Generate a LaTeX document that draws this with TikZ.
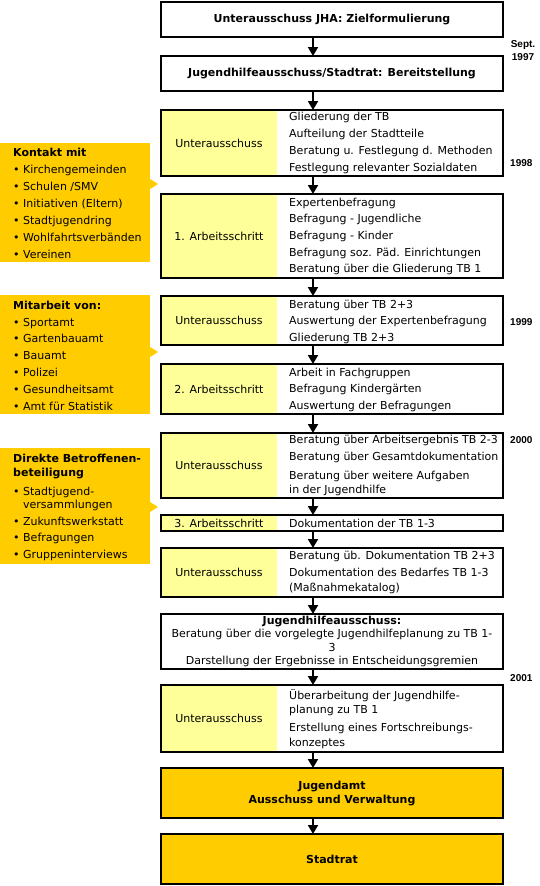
\documentclass[tikz,border=0pt]{standalone}
\usepackage{fontspec}
\setmainfont{DejaVu Sans}
\newfontfamily\yearfont{Liberation Sans}
\usetikzlibrary{arrows.meta,calc}
\definecolor{lightyel}{HTML}{FFFF99}
\definecolor{orangey}{HTML}{FFCC00}
\newcommand\bodyfs{\fontsize{11}{13.5}\selectfont}
\newcommand\bul{\makebox[10pt][l]{•}}
\begin{document}
\begin{tikzpicture}[x=1pt,y=-1pt,
  mainbox/.style={draw=black, line width=2pt, minimum width=342pt, inner sep=0pt, outer sep=0pt, font=\bodyfs\bfseries, align=center},
  lab/.style={fill=lightyel, minimum width=116pt, inner sep=0pt, outer sep=0pt, font=\bodyfs},
  txt/.style={anchor=west, align=left, inner sep=0pt, font=\bodyfs},
  side/.style={fill=orangey, inner sep=0pt, outer sep=0pt, minimum width=150pt, anchor=north west},
  sidetxt/.style={anchor=west, align=left, inner sep=0pt, font=\bodyfs},
  flow/.style={line width=2pt, -{Triangle[width=10pt,length=9pt]}},
  year/.style={font=\yearfont\bfseries\fontsize{10}{13}\selectfont, inner sep=0pt, align=center}
]
\useasboundingbox (0,0) rectangle (540,886);

% ---------- left orange boxes ----------
\node[side, minimum height=119pt] (sa) at (0,143) {};
\fill[orangey] (150,179) -- (158,184) -- (150,189) -- cycle;
\node[sidetxt] (sat) at (13,203) {\textbf{Kontakt mit}\\[3.5pt]
\bul Kirchengemeinden\\[3.5pt]
\bul Schulen /SMV\\[3.5pt]
\bul Initiativen (Eltern)\\[3.5pt]
\bul Stadtjugendring\\[3.5pt]
\bul Wohlfahrtsverbänden\\[3.5pt]
\bul Vereinen};

\node[side, minimum height=119pt] (sb) at (0,295) {};
\fill[orangey] (150,347) -- (158,352) -- (150,357) -- cycle;
\node[sidetxt] (sbt) at (13,355.5) {\textbf{Mitarbeit von:}\\[3.3pt]
\bul Sportamt\\[3.3pt]
\bul Gartenbauamt\\[3.3pt]
\bul Bauamt\\[3.3pt]
\bul Polizei\\[3.3pt]
\bul Gesundheitsamt\\[3.3pt]
\bul Amt für Statistik};

\node[side, minimum height=116pt] (sc) at (0,448) {};
\fill[orangey] (150,502) -- (158,507) -- (150,512) -- cycle;
\node[sidetxt] (sct) at (13,507.5) {\textbf{Direkte Betroffenen-}\\
\textbf{beteiligung}\\[5.5pt]
\bul Stadtjugend-\\
\hspace*{10pt}versammlungen\\[3.5pt]
\bul Zukunftswerkstatt\\[2.5pt]
\bul Befragungen\\[3.5pt]
\bul Gruppeninterviews};

% ---------- main column ----------
\node[mainbox, minimum height=35pt] (b1) at (332,19.5) {Unterausschuss JHA: Zielformulierung};
\node[mainbox, minimum height=35pt] (b2) at (332,73.5) {Jugendhilfeausschuss/Stadtrat: Bereitstellung};

\node[lab, minimum height=66pt] (l3) at (219,143) {Unterausschuss};
\node[mainbox, minimum height=66pt] (b3) at (332,143) {};
\node[txt] (t3) at (289,143) {Gliederung der TB\\[3.2pt]
Aufteilung der Stadtteile\\[3.2pt]
Beratung u. Festlegung d. Methoden\\[3.2pt]
Festlegung relevanter Sozialdaten};

\node[lab, minimum height=84pt] (l4) at (219,236) {1. Arbeitsschritt};
\node[mainbox, minimum height=84pt] (b4) at (332,236) {};
\node[txt] (t4) at (289,236.5) {Expertenbefragung\\[3.2pt]
Befragung - Jugendliche\\[3.2pt]
Befragung - Kinder\\[3.2pt]
Befragung soz. Päd. Einrichtungen\\[3.2pt]
Beratung über die Gliederung TB 1};

\node[lab, minimum height=49pt] (l5) at (219,320.5) {Unterausschuss};
\node[mainbox, minimum height=49pt] (b5) at (332,320.5) {};
\node[txt] (t5) at (289,321.5) {Beratung über TB 2+3\\[3pt]
Auswertung der Expertenbefragung\\[3pt]
Gliederung TB 2+3};

\node[lab, minimum height=50pt] (l6) at (219,389) {2. Arbeitsschritt};
\node[mainbox, minimum height=50pt] (b6) at (332,389) {};
\node[txt] (t6) at (289,389.5) {Arbeit in Fachgruppen\\[3pt]
Befragung Kindergärten\\[3pt]
Auswertung der Befragungen};

\node[lab, minimum height=65pt] (l7) at (219,465.5) {Unterausschuss};
\begin{scope}
\clip (162,433) rectangle (502,498);
\node[txt] (t7) at (289,465.5) {Beratung über Arbeitsergebnis TB 2-3\\[3.5pt]
Beratung über Gesamtdokumentation\\[5.5pt]
Beratung über weitere Aufgaben\\
in der Jugendhilfe};
\end{scope}
\node[mainbox, minimum height=65pt] (b7) at (332,465.5) {};

\node[lab, minimum height=16pt] (l8) at (219,523) {3. Arbeitsschritt};
\node[mainbox, minimum height=16pt] (b8) at (332,523) {};
\node[txt] (t8) at (289,523) {Dokumentation der TB 1-3};

\node[lab, minimum height=49pt] (l9) at (219,572.5) {Unterausschuss};
\node[mainbox, minimum height=49pt] (b9) at (332,572.5) {};
\node[txt] (t9) at (289,572) {Beratung üb. Dokumentation TB 2+3\\[3.5pt]
Dokumentation des Bedarfes TB 1-3\\[1.5pt]
(Maßnahmekatalog)};

\node[mainbox, minimum height=55pt, font=\fontsize{11}{13.3}\selectfont] (b10) at (332,641.5) {\textbf{Jugendhilfeausschuss:}\\
Beratung über die vorgelegte Jugendhilfeplanung zu TB 1-\\
3\\
Darstellung der Ergebnisse in Entscheidungsgremien};

\node[lab, minimum height=67pt] (l11) at (219,718.5) {Unterausschuss};
\node[mainbox, minimum height=67pt] (b11) at (332,718.5) {};
\node[txt] (t11) at (289,719.5) {Überarbeitung der Jugendhilfe-\\
planung zu TB 1\\[5pt]
Erstellung eines Fortschreibungs-\\[1.5pt]
konzeptes};

\node[mainbox, fill=orangey, minimum height=50pt, font=\fontsize{11}{14}\selectfont\bfseries] (b12) at (332,793) {Jugendamt\\Ausschuss und Verwaltung};
\node[mainbox, fill=orangey, minimum height=50pt] (b13) at (332,859) {Stadtrat};

% ---------- arrows ----------
\foreach \a/\b in {b1/b2,b2/b3,b3/b4,b4/b5,b5/b6,b6/b7,b7/b8,b8/b9,b9/b10,b10/b11,b11/b12,b12/b13}
  \draw[flow] ([xshift=-19pt]\a.south) -- ([xshift=-19pt]\b.north);

% ---------- years ----------
\node[year] (y97) at (523,50.5) {Sept.\\1997};
\node[year, anchor=west] (y98) at (510,163) {1998};
\node[year, anchor=west] (y99) at (510,322) {1999};
\node[year, anchor=west] (y00) at (510,440) {2000};
\node[year, anchor=west] (y01) at (510,678) {2001};
\end{tikzpicture}
\end{document}
